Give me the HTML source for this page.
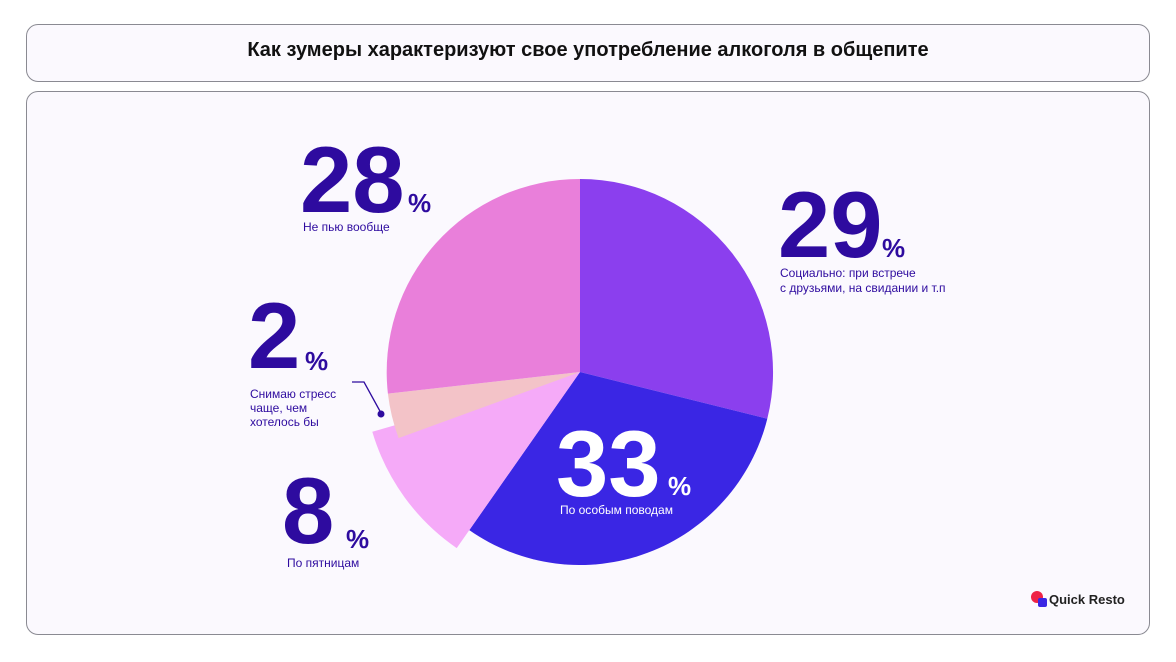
<!DOCTYPE html>
<html><head><meta charset="utf-8"><style>
body{margin:0;width:1176px;height:662px;background:#fff;font-family:"Liberation Sans",sans-serif;overflow:hidden}
.box{position:absolute;left:26px;border:1px solid #8a8a92;border-radius:12px;background:#fbf9fe}
</style></head><body>
<div class="box" style="top:24px;width:1122px;height:56px"></div>
<div style="position:absolute;top:39px;left:0;width:1176px;text-align:center;font-weight:bold;font-size:20px;color:#111">Как зумеры характеризуют свое употребление алкоголя в общепите</div>
<div class="box" style="top:91px;width:1122px;height:542px"></div>
<svg style="position:absolute;left:0;top:0" width="1176" height="662" font-family="Liberation Sans, sans-serif">
<path d="M580,372 L580,179 A193,193 0 0 1 767.3,418.7 Z" fill="#8b3fee"/>
<path d="M580,372 L767.3,418.7 A193,193 0 0 1 469.3,530.1 Z" fill="#3a26e4"/>
<path d="M580,372 L456.7,548.1 A215,215 0 0 1 372.3,431.8 Z" fill="#f5aaf8"/>
<path d="M580,372 L398.6,438.1 A193,193 0 0 1 387.9,393.6 Z" fill="#f3c3c8"/>
<path d="M580,372 L387.9,393.6 A193,193 0 0 1 580,179 Z" fill="#e97fda"/>
<g fill="#2e0b9f" font-weight="bold">
<text x="300" y="212" font-size="94">28</text><text x="408" y="212" font-size="26">%</text>
<text x="778" y="257" font-size="94">29</text><text x="882" y="257" font-size="26">%</text>
<text x="248" y="368" font-size="94">2</text><text x="305" y="370" font-size="26">%</text>
<text x="282" y="543" font-size="94">8</text><text x="346" y="548" font-size="26">%</text>
</g>
<g fill="#fff" font-weight="bold"><text x="556" y="496" font-size="94">33</text><text x="668" y="495" font-size="26">%</text></g>
<g fill="#2e0b9f" font-size="12">
<text x="303" y="231">Не пью вообще</text>
<text x="780" y="277">Социально: при встрече</text>
<text x="780" y="292">с друзьями, на свидании и т.п</text>
<text x="250" y="398">Снимаю стресс</text>
<text x="250" y="412">чаще, чем</text>
<text x="250" y="426">хотелось бы</text>
<text x="287" y="567">По пятницам</text>
</g>
<text x="560" y="514" font-size="12" fill="#fff">По особым поводам</text>
<polyline points="352,382 364,382 381,413" fill="none" stroke="#2e0b9f" stroke-width="1.3"/>
<circle cx="381" cy="414" r="3.5" fill="#2e0b9f"/>
<circle cx="1037" cy="597" r="6" fill="#ee2346"/>
<rect x="1038" y="598" width="9" height="9" rx="2" fill="#3a26e4"/>
<text x="1049" y="604" font-size="13" font-weight="bold" fill="#222">Quick Resto</text>
</svg>
</body></html>
